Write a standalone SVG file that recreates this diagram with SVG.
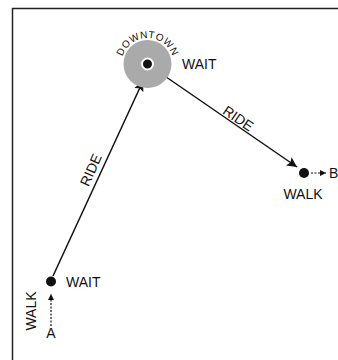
<svg xmlns="http://www.w3.org/2000/svg" width="338" height="360" viewBox="0 0 338 360">
<style>
text{font-family:"Liberation Sans",Arial,sans-serif;fill:#111}
.lbl{font-size:14px}
.solid{stroke:#111;stroke-width:1.5;fill:none}
.dash{stroke:#111;stroke-width:1.2;fill:none;stroke-dasharray:2 1.5}
</style>
<defs>
<marker id="ah" viewBox="0 0 10 10" refX="10" refY="5" markerWidth="11" markerHeight="10" markerUnits="userSpaceOnUse" orient="auto"><path d="M0,0 L10,5 L0,10 L2,5 z" fill="#111"/></marker>
<marker id="ahs" viewBox="0 0 10 10" refX="10" refY="5" markerWidth="7" markerHeight="6" markerUnits="userSpaceOnUse" orient="auto"><path d="M0,0 L10,5 L0,10 z" fill="#111"/></marker>
<path id="arc" d="M121.5,64 A26,26 0 0 1 173.5,64"/>
</defs>
<rect width="338" height="360" fill="#fff"/>
<path d="M12.5,360 V8.5 H338" stroke="#222" stroke-width="1.5" fill="none"/>
<g id="connectors">
<line class="solid" x1="53" y1="276" x2="143" y2="81" marker-end="url(#ah)"/>
<line class="solid" x1="156" y1="70" x2="297" y2="167" marker-end="url(#ah)"/>
<line class="dash" x1="51" y1="326" x2="51" y2="294" marker-end="url(#ahs)"/>
<line class="dash" x1="311" y1="173" x2="326" y2="173" marker-end="url(#ahs)"/>
<text class="lbl" transform="translate(95.3,172) rotate(-66)" text-anchor="middle">RIDE</text>
<text class="lbl" transform="translate(235.5,122.4) rotate(34.5)" text-anchor="middle">RIDE</text>
</g>
<g id="downtown">
<circle cx="147.5" cy="64" r="24" fill="#aaa"/>
<circle cx="147.5" cy="64" r="5.5" fill="#111" stroke="#fff" stroke-width="2"/>
<text font-size="10" letter-spacing="0.5"><textPath href="#arc" startOffset="50%" text-anchor="middle">DOWNTOWN</textPath></text>
<text class="lbl" x="182" y="69">WAIT</text>
</g>
<g id="start">
<circle cx="51" cy="281.5" r="5" fill="#111"/>
<text class="lbl" x="66" y="287">WAIT</text>
<text class="lbl" transform="translate(35.5,311) rotate(-90)" text-anchor="middle">WALK</text>
<text class="lbl" x="51" y="337.5" text-anchor="middle">A</text>
</g>
<g id="end">
<circle cx="304" cy="173" r="5" fill="#111"/>
<text class="lbl" x="329" y="178">B</text>
<text class="lbl" x="303" y="199" text-anchor="middle">WALK</text>
</g>
</svg>
